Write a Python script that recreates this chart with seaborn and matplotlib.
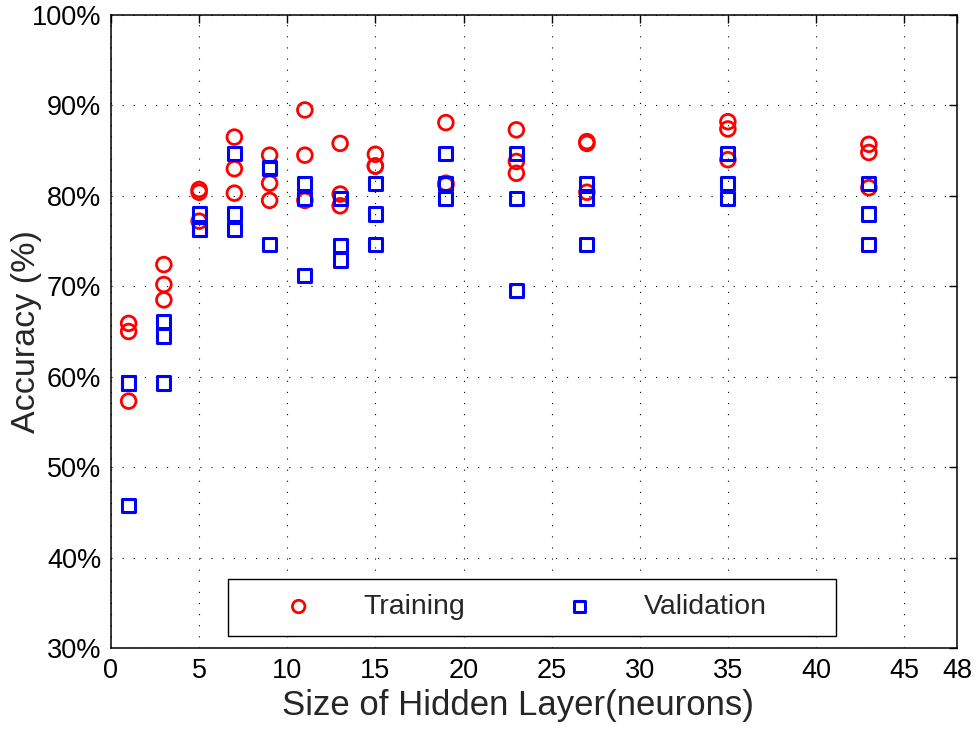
import numpy as np
import pandas as pd
import matplotlib
matplotlib.use("Agg")
import matplotlib.pyplot as plt
from matplotlib.patches import Rectangle
import seaborn as sns

# ---- data ----
sizes = [1, 3, 5, 7, 9, 11, 13, 15, 19, 23, 27, 35, 43]
training = [
    [65.9, 65.0, 57.3],
    [72.4, 70.2, 68.5],
    [80.7, 80.4, 77.2],
    [86.5, 83.0, 80.3],
    [84.5, 81.4, 79.5],
    [89.5, 84.5, 79.5],
    [85.8, 80.2, 78.9],
    [84.6, 83.3, 83.3],
    [88.1, 81.4, 81.2],
    [87.3, 83.8, 82.5],
    [86.0, 85.8, 80.4],
    [88.2, 87.4, 84.0],
    [85.7, 84.8, 80.9],
]
validation = [
    [59.3, 59.3, 45.8],
    [66.1, 64.5, 59.3],
    [78.0, 76.3, 76.3],
    [84.7, 78.0, 76.3],
    [83.1, 83.0, 74.6],
    [81.4, 79.7, 71.2],
    [79.7, 74.5, 72.9],
    [81.4, 78.0, 74.6],
    [84.7, 81.4, 79.7],
    [84.7, 79.7, 69.5],
    [81.4, 79.7, 74.6],
    [84.7, 81.4, 79.7],
    [81.4, 78.0, 74.6],
]
xticks = [0, 5, 10, 15, 20, 25, 30, 35, 40, 45, 48]
yticks = [30, 40, 50, 60, 70, 80, 90, 100]
ytick_labels = [f"{v}%" for v in yticks]

rows = []
for s, tr, va in zip(sizes, training, validation):
    for v in tr:
        rows.append((s, v, "Training"))
    for v in va:
        rows.append((s, v, "Validation"))
df = pd.DataFrame(rows, columns=["size", "acc", "series"])

# ---- style ----
sns.set_style("white")
plt.rcParams["font.family"] = ["Liberation Sans", "DejaVu Sans"]

fig = plt.figure(figsize=(9.76, 7.31), dpi=100)
ax = fig.add_axes([111 / 976, 1 - 648 / 731, (957 - 111) / 976, (648 - 15) / 731])

RED = "#ff0000"
BLUE = "#0000ff"
tr_df = df[df.series == "Training"]
va_df = df[df.series == "Validation"]
sns.scatterplot(data=tr_df, x="size", y="acc", marker="o", s=112, color=RED,
                facecolors="none", edgecolor=RED, linewidth=2.0, ax=ax,
                label="Training", zorder=3)
sns.scatterplot(data=va_df, x="size", y="acc", marker="s", s=90, color=BLUE,
                facecolors="none", edgecolor=BLUE, linewidth=2.2, ax=ax,
                label="Validation", zorder=4)

ax.set_xlim(0, 48)
ax.set_ylim(30, 100)
ax.set_xticks(xticks)
ax.set_xticklabels([str(t) for t in xticks])
ax.set_yticks(yticks)
ax.set_yticklabels(ytick_labels)
ax.grid(True, color="black", linestyle=(0, (1, 9)), linewidth=0.8)
ax.tick_params(direction="in", length=6, width=1, top=True, right=True,
               labelsize=19.5, pad=7, colors="black")
for sp in ax.spines.values():
    sp.set_visible(True)
    sp.set_color("black")
    sp.set_linewidth(1.1)

ax.set_xlabel("Size of Hidden Layer(neurons)", fontsize=25)
ax.set_ylabel("Accuracy (%)", fontsize=24.5)
ax.xaxis.set_label_coords(0.481, -0.064)
ax.yaxis.set_label_coords(-0.082, 0.5)

# legend frame
ax.add_patch(Rectangle((0.138, 0.0194), 0.7186, 0.0896, transform=ax.transAxes,
                       facecolor="white", edgecolor="black", linewidth=1.0,
                       zorder=5))
leg = ax.legend(loc="center left", bbox_to_anchor=(0.1882, 0.0648),
                ncol=2, fontsize=20.5, frameon=False, handlelength=2.0,
                handletextpad=1.26, columnspacing=3.03, borderpad=0,
                borderaxespad=0, markerscale=0.85)
leg.set_zorder(6)

fig.savefig("out.png", dpi=100)
